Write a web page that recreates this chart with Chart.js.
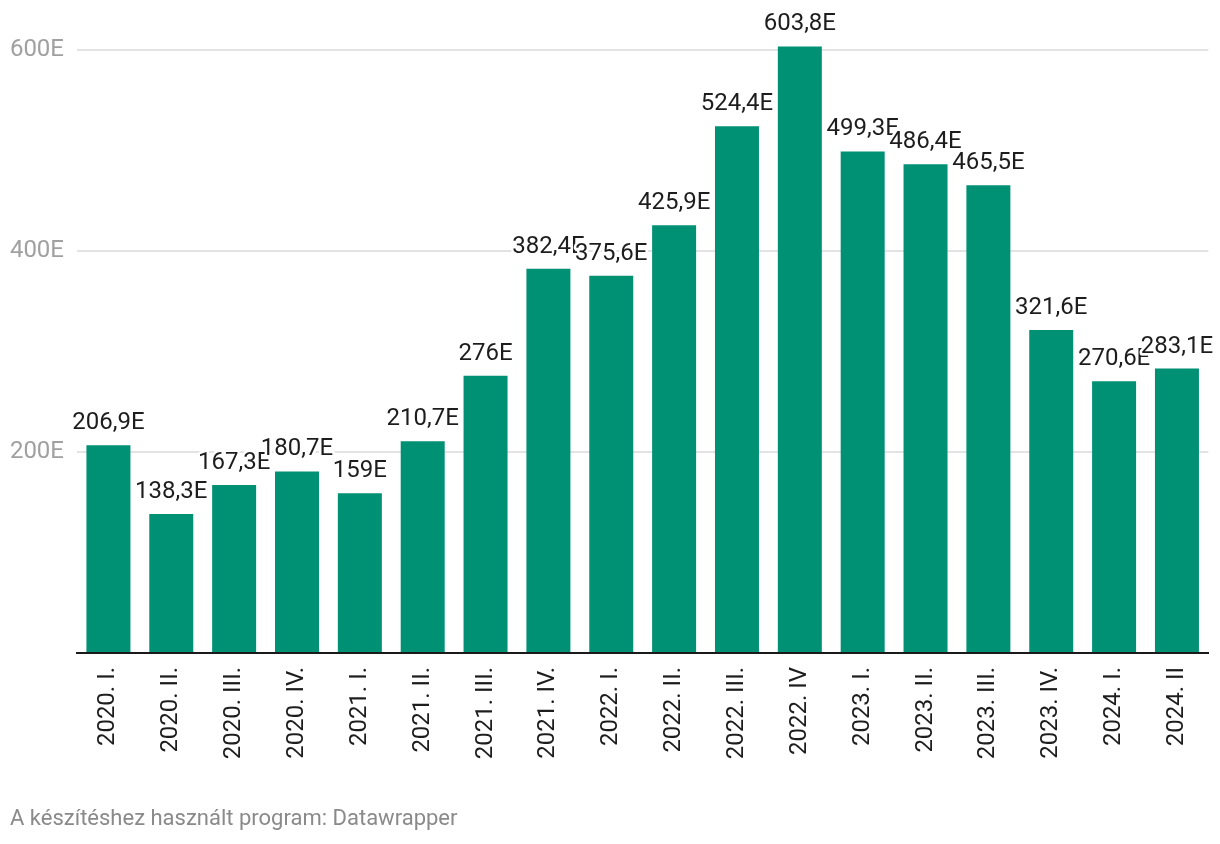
<!DOCTYPE html>
<html>
<head>
<meta charset="utf-8">
<script src="https://cdn.jsdelivr.net/npm/chart.js@4/dist/chart.umd.min.js"></script>
<style>
    body { margin: 0; background: #fff; }
    #wrap { position: relative; width: 1220px; height: 844px; }
    #footer {
        position: absolute; left: 10px; top: 805px;
        font: 22px Roboto, sans-serif; color: #8a8a8a;
    }
</style>
</head>
<body>
<div id="wrap">
    <canvas id="salesChart"></canvas>
    <div id="footer">A készítéshez használt program: Datawrapper</div>
</div>
<script>
// negyedévek
const quarters = [
    '2020. I.', '2020. II.', '2020. III.', '2020. IV.',
    '2021. I.', '2021. II.', '2021. III.', '2021. IV.',
    '2022. I.', '2022. II.', '2022. III.', '2022. IV',
    '2023. I.', '2023. II.', '2023. III.', '2023. IV.',
    '2024. I.', '2024. II',
];

// értékek (ezer)
const values = [
    206.9, 138.3, 167.3, 180.7,
    159, 210.7, 276, 382.4,
    375.6, 425.9, 524.4, 603.8,
    499.3, 486.4, 465.5, 321.6,
    270.6, 283.1,
];

const yTicks = [200, 400, 600];

const fmt = (v) => String(v).replace('.', ',') + 'E';

// érték címkék a oszlopok fölött (fehér körvonallal, mint a Datawrapper)
const valueLabels = {
    id: 'valueLabels',
    afterDatasetsDraw(chart) {
        const ctx = chart.ctx;
        const meta = chart.getDatasetMeta(0);
        ctx.save();
        ctx.font = '24px Roboto, sans-serif';
        ctx.textAlign = 'center';
        ctx.textBaseline = 'alphabetic';
        ctx.lineJoin = 'round';
        meta.data.forEach((bar, i) => {
            const text = fmt(values[i]);
            const y = bar.y - 16;
            ctx.strokeStyle = '#fff';
            ctx.lineWidth = 5;
            ctx.strokeText(text, bar.x, y);
            ctx.fillStyle = '#1d1d1d';
            ctx.fillText(text, bar.x, y);
        });
        ctx.restore();
    },
};

new Chart(document.getElementById('salesChart'), {
    type: 'bar',
    data: {
        labels: quarters,
        datasets: [{
            data: values,
            backgroundColor: '#009175',
            barPercentage: 0.7,
            categoryPercentage: 1,
        }],
    },
    options: {
        responsive: true,
        maintainAspectRatio: false,
        animation: false,
        layout: { padding: { top: 0, right: 9, left: 0, bottom: 0 } },
        plugins: {
            legend: { display: false },
            tooltip: { enabled: false },
        },
        scales: {
            x: {
                afterFit: (scale) => {
                    scale.height = 191;
                    scale.paddingTop = 0;
                },
                grid: { display: false, drawTicks: false },
                border: { display: true, color: '#1a1a1a', width: 2 },
                ticks: {
                    color: '#1d1d1d',
                    font: { family: 'Roboto', size: 24 },
                    minRotation: 90,
                    maxRotation: 90,
                    padding: 14,
                    autoSkip: false,
                },
            },
            y: {
                min: 0,
                max: 650,
                afterFit: (scale) => {
                    scale.width = 77;
                    scale.paddingTop = 0;
                    scale.paddingBottom = 0;
                },
                afterBuildTicks: (scale) => {
                    scale.ticks = [0, ...yTicks].map((v) => ({ value: v }));
                },
                grid: { color: '#e3e3e3', lineWidth: 2, drawTicks: false },
                border: { display: false },
                ticks: {
                    color: '#a0a0a0',
                    font: { family: 'Roboto', size: 24 },
                    padding: 13,
                    callback: (v) => (v === 0 ? '' : v + 'E'),
                },
            },
        },
    },
    plugins: [valueLabels],
});
</script>
</body>
</html>
